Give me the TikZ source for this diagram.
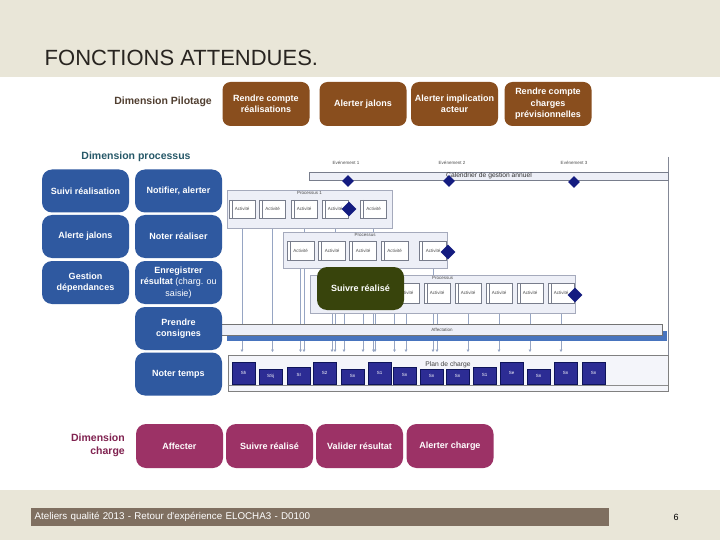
\documentclass[tikz,border=0pt]{standalone}
\usepackage{fontspec}
\setmainfont{Liberation Sans}
\usetikzlibrary{shapes.geometric,arrows.meta}
\definecolor{beige}{RGB}{233,230,216}
\definecolor{titlecol}{RGB}{40,36,32}
\definecolor{brownbox}{RGB}{137,78,30}
\definecolor{bluebox}{RGB}{47,89,160}
\definecolor{chargebox}{RGB}{156,50,102}
\definecolor{greenbox}{RGB}{56,68,12}
\definecolor{pilotxt}{RGB}{80,62,48}
\definecolor{proctxt}{RGB}{38,88,104}
\definecolor{chargetxt}{RGB}{128,34,80}
\definecolor{footcol}{RGB}{127,111,96}
\definecolor{navy}{RGB}{20,28,128}
\definecolor{plannavy}{RGB}{44,44,148}
\definecolor{framefill}{RGB}{237,239,247}
\definecolor{frameline}{RGB}{165,170,188}
\definecolor{actline}{RGB}{120,125,140}
\definecolor{vlinecol}{RGB}{150,165,195}
\definecolor{affblue}{RGB}{72,116,190}
\pgfdeclarelayer{bg}
\pgfdeclarelayer{lines}
\pgfsetlayers{bg,lines,main}
\begin{document}
\begin{tikzpicture}[x=1pt,y=-1pt,
  fbox/.style={rounded corners=8pt, text=white, align=center, inner sep=1pt,
    font=\bfseries\fontsize{9}{11.5}\selectfont},
  pbox/.style={fbox, fill=brownbox, minimum width=87pt, minimum height=44pt},
  bbox/.style={fbox, fill=bluebox, minimum width=87pt, minimum height=43pt, rounded corners=10pt},
  cbox/.style={fbox, fill=chargebox, minimum width=87pt, minimum height=44pt, rounded corners=10pt},
  dimlab/.style={font=\bfseries\fontsize{10.5}{13}\selectfont, inner sep=0pt},
  tinytxt/.style={font=\fontsize{4.5}{5}\selectfont, text=black!70, inner sep=0pt},
  gframe/.style={draw=frameline, fill=framefill, inner sep=0pt, line width=0.6pt},
  act/.style={draw=actline, fill=white, minimum width=26pt, inner sep=0pt,
    font=\fontsize{4.5}{5}\selectfont, text=black!70, line width=0.5pt,
    path picture={\draw[actline, line width=0.5pt] ([xshift=3pt]path picture bounding box.north west) -- ([xshift=3pt]path picture bounding box.south west);}},
  dia/.style={diamond, fill=navy, inner sep=0pt, minimum size=14pt},
  vline/.style={draw=vlinecol, line width=0.7pt, -{Triangle[length=2.5pt,width=2.8pt]}},
  pl/.style={fill=plannavy, draw=navy!70!black, line width=0.4pt, text=white, minimum width=23pt, inner sep=0pt, anchor=south west,
    font=\fontsize{4.5}{5}\selectfont}
]
\useasboundingbox (0,0) rectangle (720,540);
\begin{pgfonlayer}{bg}
\fill[beige] (0,0) rectangle (720,77);
\fill[white] (0,77) rectangle (720,490);
\fill[beige] (0,490) rectangle (720,540);
\end{pgfonlayer}

% title
\node[anchor=west, inner sep=0pt, text=titlecol, font=\fontsize{22}{24}\selectfont] (title) at (44.5,58) {FONCTIONS ATTENDUES.};

% Dimension pilotage
\node[dimlab, text=pilotxt, anchor=east] (dp) at (212,102) {Dimension Pilotage};
\node[pbox] (p1) at (266,104) {Rendre compte\\réalisations};
\node[pbox] (p2) at (363,104) {Alerter jalons};
\node[pbox] (p3) at (454.5,104) {Alerter implication\\acteur};
\node[pbox] (p4) at (548,104) {Rendre compte\\charges\\prévisionnelles};

% Dimension processus
\node[dimlab, text=proctxt] (dpr) at (136,157) {Dimension processus};

% Gantt chart
\coordinate (ay) at (0,352);
\draw[frameline!80!black, line width=0.8pt] (668,157) -- (668,356);
\node[tinytxt] (e1) at (346,163) {Evénement 1};
\node[tinytxt] (e2) at (452,163) {Evénement 2};
\node[tinytxt] (e3) at (574,163) {Evénement 3};
\node[gframe, draw=actline, minimum width=359pt, minimum height=8pt] (cal) at (488.5,176) {};
\node[anchor=west, inner sep=0pt, font=\fontsize{6.7}{7}\selectfont, text=black!80] (calt) at (446,175.5) {Calendrier de gestion annuel};
\node[dia, minimum size=12pt] (d1) at (348,181) {};
\node[dia, minimum size=12pt] (d2) at (449,181) {};
\node[dia, minimum size=12pt] (d3) at (574,182) {};

% Processus 1
\node[gframe, minimum width=165pt, minimum height=38pt] (P1) at (309.5,209) {};
\node[tinytxt, anchor=north] (P1l) at ([yshift=-2pt]P1.north) {Processus 1};
\foreach \n/\x in {1/242,2/272.5,3/304,4/335,5/373.5}
  \node[act, minimum height=18pt] (a1\n) at (\x,209) {Activité};
\node[dia, minimum size=15pt] (d4) at (349,209) {};

% Processus 2
\node[gframe, minimum width=164pt, minimum height=36pt] (P2) at (365,250) {};
\node[tinytxt, anchor=north] (P2l) at ([yshift=-2pt]P2.north) {Processus};
\foreach \n/\x in {1/300.5,2/332,3/363,4/394.5,5/433}
  \node[act, minimum height=19pt, minimum width=27pt] (a2\n) at (\x,250.5) {Activité};
\node[dia, minimum size=15pt] (d5) at (448,252) {};

% Processus 3 (first two activities hidden under the green box)
\node[gframe, minimum width=265pt, minimum height=38pt] (P3) at (442.5,294) {};
\node[tinytxt, anchor=north] (P3l) at ([yshift=-2pt]P3.north) {Processus};
\foreach \n/\x in {1/344,2/375}
  \node[act, minimum height=20pt] (a3\n) at (\x,293) {};
\foreach \n/\x in {3/406,4/437,5/468,6/499,7/530,8/561}
  \node[act, minimum height=20pt] (a3\n) at (\x,293) {Activité};
\node[dia, minimum size=15pt] (d6) at (575,295) {};

% vertical lines from activities
\begin{pgfonlayer}{lines}
\foreach \p/\m in {1/5,2/5,3/8}{
  \foreach \n in {1,...,\m}
    \draw[vline] (a\p\n.south) -- (a\p\n.south |- ay);
}
\end{pgfonlayer}

% Suivre realise (green)
\node[fbox, fill=greenbox, minimum width=87pt, minimum height=43pt, rounded corners=10pt] (g) at (360.5,288.5) {Suivre réalisé};

% Affectation
\fill[affblue] (227,331) rectangle (667,341);
\node[gframe, draw=black!55, minimum width=447pt, minimum height=11pt] (aff) at (438.5,329.5) {};
\node[tinytxt] (affl) at (442,329.5) {Affectation};

% Plan de charge
\node[gframe, draw=black!50, line width=0.9pt, fill=framefill!60, minimum width=440pt, minimum height=36pt] (plan) at (448,373) {};
\draw[black!45, line width=0.6pt] ([yshift=6pt]plan.south west) -- ([yshift=6pt]plan.south east);
\node[font=\fontsize{6.7}{7}\selectfont, text=black!75, inner sep=0pt] (planl) at (448,364.5) {Plan de charge};
\foreach \n/\x/\h/\t in {1/232/22/Sh,2/259/15/SSj,3/287/17/SI,4/313/22/S2,5/341/15/Sn,6/368/22/S1,7/393/17/Sn,8/420/15/Sn,9/446/15/Sn,10/473/17/S1,11/500/22/Se,12/527/15/Sn,13/554/22/Sn,14/582/22/Sn}
  \node[pl, minimum height=\h pt] (s\n) at (\x,384) {\t};

% blue process boxes
\node[bbox] (b11) at (85.5,191) {Suivi réalisation};
\node[bbox] (b12) at (85.5,236.5) {Alerte jalons};
\node[bbox] (b13) at (85.5,282.5) {Gestion\\dépendances};
\node[bbox] (b21) at (178.5,191) {Notifier, alerter};
\node[bbox] (b22) at (178.5,236.5) {Noter réaliser};
\node[bbox] (b23) at (178.5,282.5) {Enregistrer\\résultat {\mdseries (charg. ou}\\{\mdseries saisie)}};
\node[bbox] (b24) at (178.5,328.5) {Prendre\\consignes};
\node[bbox] (b25) at (178.5,374) {Noter temps};

% Dimension charge
\node[dimlab, text=chargetxt, align=right, anchor=east] (dc) at (125,445) {Dimension\\charge};
\node[cbox] (c1) at (179.5,446) {Affecter};
\node[cbox] (c2) at (269.5,446) {Suivre réalisé};
\node[cbox] (c3) at (359.5,446) {Valider résultat};
\node[cbox] (c4) at (450,446) {Alerter charge};

% footer
\node[fill=footcol, text=white, minimum height=18pt, text width=571pt, inner xsep=3.5pt, anchor=west, align=left,
  font=\fontsize{9.8}{11}\selectfont] (foot) at (31,517) {Ateliers qualité 2013 - Retour d\textquotesingle expérience ELOCHA3 - D0100};
\node[font=\fontsize{9}{10}\selectfont, inner sep=0pt] (pg) at (676,517) {6};
\end{tikzpicture}
\end{document}
